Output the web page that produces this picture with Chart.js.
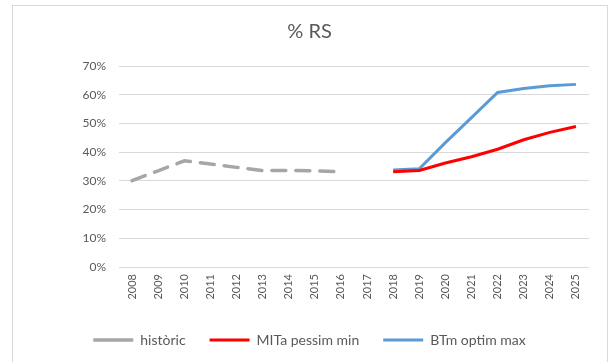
<!DOCTYPE html>
<html>
<head>
<meta charset="utf-8">
<script src="https://cdn.jsdelivr.net/npm/chart.js@4/dist/chart.umd.min.js"></script>
<style>
html,body{margin:0;padding:0;background:#fff;overflow:hidden;}
#wrap{position:absolute;left:0;top:0;width:611px;height:362px;}
#frame{position:absolute;left:12px;top:5px;width:596px;height:400px;border:1px solid #d9d9d9;box-sizing:border-box;}
canvas{position:absolute;left:0;top:0;}
</style>
</head>
<body>
<div id="wrap"><div id="frame"></div><canvas id="c" width="611" height="362"></canvas></div>
<script>
const categories = ['2008','2009','2010','2011','2012','2013','2014','2015','2016','2017','2018','2019','2020','2021','2022','2023','2024','2025'];
const historic = [0.301, 0.335, 0.370, 0.359, 0.347, 0.336, 0.336, 0.335, 0.332, null, null, null, null, null, null, null, null, null];
const mitaPessimMin = [null, null, null, null, null, null, null, null, null, null, 0.332, 0.336, 0.362, 0.384, 0.410, 0.443, 0.469, 0.489];
const btmOptimMax = [null, null, null, null, null, null, null, null, null, null, 0.338, 0.342, 0.433, 0.520, 0.608, 0.622, 0.631, 0.636];
const yTicks = [0, 0.1, 0.2, 0.3, 0.4, 0.5, 0.6, 0.7];

const FONT = 'Lato, "Open Sans", sans-serif';
const TXT = '#595959';

new Chart(document.getElementById('c'), {
  type: 'line',
  data: {
    labels: categories,
    datasets: [
      {label: 'històric', data: historic, borderColor: '#a6a6a6', backgroundColor: '#a6a6a6', borderWidth: 3.5, borderDash: [14, 10], pointRadius: 0, tension: 0, spanGaps: false, borderCapStyle: 'round'},
      {label: 'MITa pessim min', data: mitaPessimMin, borderColor: '#ff0000', backgroundColor: '#ff0000', borderWidth: 3, pointRadius: 0, tension: 0},
      {label: 'BTm optim max', data: btmOptimMax, borderColor: '#5b9bd5', backgroundColor: '#5b9bd5', borderWidth: 3, pointRadius: 0, tension: 0}
    ]
  },
  options: {
    responsive: false,
    animation: false,
    devicePixelRatio: 1,
    layout: {padding: {left: 30, right: 22, top: 20, bottom: 5}},
    plugins: {
      title: {display: true, text: '% RS', color: TXT, font: {family: FONT, size: 20, weight: 'normal'}, padding: {top: 0, bottom: 22}},
      legend: {
        position: 'bottom',
        labels: {
          color: TXT, font: {family: FONT, size: 14},
          usePointStyle: true, pointStyle: 'line', pointStyleWidth: 40,
          boxHeight: 11, padding: 24
        }
      },
      tooltip: {enabled: false}
    },
    scales: {
      x: {
        offset: true,
        grid: {display: false, drawTicks: false},
        border: {display: false},
        ticks: {color: TXT, font: {family: FONT, size: 11}, minRotation: 90, maxRotation: 90, padding: 7, autoSkip: false},
        afterFit: (s) => { s.height = 42; }
      },
      y: {
        min: 0, max: 0.7,
        afterBuildTicks: (s) => { s.ticks = yTicks.map(v => ({value: v})); },
        grid: {color: '#d9d9d9', lineWidth: 1, drawTicks: false},
        border: {display: false},
        ticks: {color: TXT, font: {family: FONT, size: 12}, padding: 13, callback: (v) => Math.round(v * 100) + '%'},
        afterFit: (s) => { s.width = 89; }
      }
    }
  }
});
</script>
</body>
</html>
